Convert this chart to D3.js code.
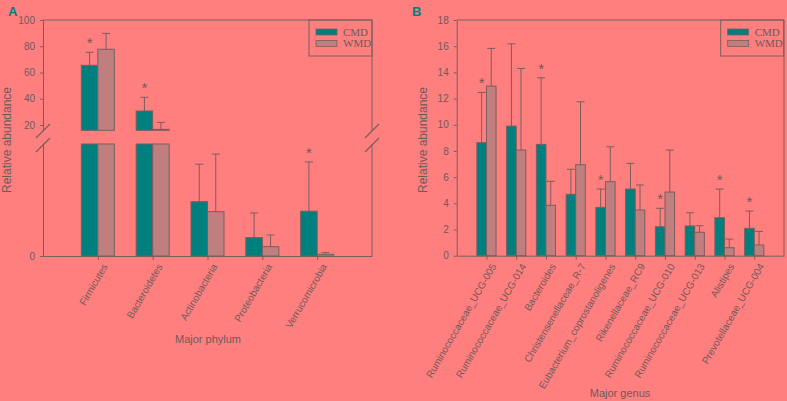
<!DOCTYPE html>
<html>
<head>
<meta charset="utf-8">
<script src="https://cdn.jsdelivr.net/npm/d3@7"></script>
<style>
  body { margin: 0; background: #ff7f7f; }
  svg { display: block; font-family: "Liberation Sans", Arial, sans-serif; }
  .tick text { fill: #6e5a5a; }
</style>
</head>
<body>
<svg id="chart" width="787" height="401"></svg>
<script>
// ---- data ----
var phyla = ["Firmicutes", "Bacteroidetes", "Actinobacteria", "Proteobacteria", "Verrucomicrobia"];
var phylumCMD = [65.5, 30.7, 4.85, 1.64, 4.0];
var phylumCMDsd = [9.9, 10.4, 3.35, 2.2, 4.4];
var phylumWMD = [77.7, 16.7, 3.96, 0.83, 0.15];
var phylumWMDsd = [12.1, 5.3, 5.14, 1.05, 0.15];
var phylumSig = [true, true, false, false, true];

var genera = ["Ruminococcaceae_UCG-005", "Ruminococcaceae_UCG-014", "Bacteroides",
  "Christensenellaceae_R-7", "Eubacterium_coprostanoligenes", "Rikenellaceae_RC9",
  "Ruminococcaceae_UCG-010", "Ruminococcaceae_UCG-013", "Alistipes", "Prevotellaceae_UCG-004"];
var genusCMD = [8.63, 9.9, 8.5, 4.69, 3.69, 5.09, 2.21, 2.27, 2.9, 2.09];
var genusCMDsd = [3.84, 6.28, 5.09, 1.91, 1.4, 1.96, 1.41, 1.01, 2.19, 1.32];
var genusWMD = [12.95, 8.07, 3.85, 6.95, 5.65, 3.49, 4.86, 1.79, 0.61, 0.82];
var genusWMDsd = [2.88, 6.23, 1.83, 4.8, 2.67, 1.91, 3.21, 0.5, 0.66, 1.04];
var genusSig = [true, false, true, false, true, false, true, false, true, true];

var phylumTicksUpper = [20, 40, 60, 80, 100];
var genusTicks = [0, 2, 4, 6, 8, 10, 12, 14, 16, 18];
var series = ["CMD", "WMD"];

// ---- style ----
var colCMD = "#007f7f";
var colWMD = "#bf7f7f";
var lineCol = "#7a5e5e";
var textCol = "#6e5a5a";

var svg = d3.select("#chart");

function styleAxis(g) {
  g.selectAll("path, line").attr("stroke", lineCol);
  g.selectAll("text").attr("fill", textCol).style("font-size", "10px");
}

function legend(x, y) {
  var lg = svg.append("g").attr("transform", "translate(" + x + "," + y + ")");
  lg.append("rect").attr("width", 63).attr("height", 36)
    .attr("fill", "none").attr("stroke", lineCol);
  series.forEach(function(s, i) {
    lg.append("rect").attr("x", 7).attr("y", 9 + i * 11.4).attr("width", 21).attr("height", 6)
      .attr("fill", i == 0 ? colCMD : colWMD).attr("stroke", lineCol).attr("stroke-width", 0.8);
    lg.append("text").attr("x", 34).attr("y", 16 + i * 11.4)
      .style("font-family", "'Liberation Serif', serif").style("font-size", "11px")
      .attr("fill", textCol).text(s);
  });
}

function errBar(g, x, y0, y1) {
  g.append("line").attr("x1", x).attr("x2", x).attr("y1", y0).attr("y2", y1)
    .attr("stroke", lineCol).attr("stroke-width", 1);
  g.append("line").attr("x1", x - 4).attr("x2", x + 4).attr("y1", y1).attr("y2", y1)
    .attr("stroke", lineCol).attr("stroke-width", 1);
}

function star(g, x, y) {
  g.append("text").attr("x", x).attr("y", y + 9).attr("text-anchor", "middle")
    .style("font-size", "15px").attr("fill", textCol).text("*");
}

// ================= Panel A =================
var aL = 43, aR = 372, aTop = 20, aBot = 256;
var xA = d3.scalePoint().domain(phyla).range([aL, aR]).padding(1);
var yUp = d3.scaleLinear().domain([16, 100]).range([130.3, aTop]);
var yLo = d3.scaleLinear().domain([0, 10]).range([aBot, 144]);
var bwA = 16.5;

var gA = svg.append("g");

// frame
gA.append("line").attr("x1", aL).attr("x2", aR).attr("y1", aTop).attr("y2", aTop).attr("stroke", lineCol);
gA.append("line").attr("x1", aR).attr("x2", aR).attr("y1", aTop).attr("y2", 130.3).attr("stroke", lineCol);
gA.append("line").attr("x1", aR).attr("x2", aR).attr("y1", 144).attr("y2", aBot).attr("stroke", lineCol);

gA.append("g").attr("transform", "translate(" + aL + ",0)")
  .call(d3.axisLeft(yUp).tickValues(phylumTicksUpper).tickSize(3).tickPadding(5).tickSizeOuter(0))
  .call(styleAxis);
gA.append("g").attr("transform", "translate(" + aL + ",0)")
  .call(d3.axisLeft(yLo).tickValues([0]).tickSize(3).tickPadding(5).tickSizeOuter(0))
  .call(styleAxis);

// break marks
[aL, aR].forEach(function(x) {
  [131, 145].forEach(function(y) {
    gA.append("line").attr("x1", x - 7).attr("y1", y + 7).attr("x2", x + 7).attr("y2", y - 7)
      .attr("stroke", lineCol).attr("stroke-width", 1.2);
  });
});

function drawPhylumBar(v, sd, x, fill) {
  var top;
  if (v > 10) {
    gA.append("rect").attr("x", x).attr("y", 144).attr("width", bwA).attr("height", aBot - 144)
      .attr("fill", fill).attr("stroke", lineCol);
    top = yUp(v);
    gA.append("rect").attr("x", x).attr("y", top).attr("width", bwA).attr("height", 130.3 - top)
      .attr("fill", fill).attr("stroke", lineCol);
    errBar(gA, x + bwA / 2, top, yUp(v + sd));
    return yUp(v + sd);
  } else {
    top = yLo(v);
    gA.append("rect").attr("x", x).attr("y", top).attr("width", bwA).attr("height", aBot - top)
      .attr("fill", fill).attr("stroke", lineCol);
    errBar(gA, x + bwA / 2, top, yLo(v + sd));
    return yLo(v + sd);
  }
}

phyla.forEach(function(p, i) {
  var cx = xA(p);
  var t = drawPhylumBar(phylumCMD[i], phylumCMDsd[i], cx - bwA, colCMD);
  drawPhylumBar(phylumWMD[i], phylumWMDsd[i], cx, colWMD);
  if (phylumSig[i]) star(gA, cx - bwA / 2, t - 13);
});

var xAxA = gA.append("g").attr("transform", "translate(0," + aBot + ")")
  .call(d3.axisBottom(xA).tickSize(4).tickSizeOuter(0))
  .call(styleAxis);
xAxA.selectAll("text").attr("text-anchor", "end")
  .attr("transform", "translate(3,3) rotate(-60)").attr("dy", "0.35em").attr("dx", "-0.3em").attr("x", 0)
  .attr("y", 6);

gA.append("text").attr("x", 208).attr("y", 343).attr("text-anchor", "middle")
  .style("font-size", "11px").attr("fill", textCol).text("Major phylum");
gA.append("text").attr("transform", "translate(11,140) rotate(-90)").attr("text-anchor", "middle")
  .style("font-size", "12px").attr("fill", textCol).text("Relative abundance");
gA.append("text").attr("x", 8).attr("y", 16).style("font-size", "13px").style("font-weight", "bold")
  .attr("fill", colCMD).text("A");
legend(309, 20);

// ================= Panel B =================
var bL = 456.7, bR = 784, bTop = 20, bBot = 255.7;
var xB = d3.scalePoint().domain(genera).range([bL, bR]).padding(1);
var yB = d3.scaleLinear().domain([0, 18]).range([bBot, bTop]);
var bwB = 9.6;

var gB = svg.append("g");
gB.append("line").attr("x1", bL).attr("x2", bR).attr("y1", bTop).attr("y2", bTop).attr("stroke", lineCol);
gB.append("line").attr("x1", bR).attr("x2", bR).attr("y1", bTop).attr("y2", bBot).attr("stroke", lineCol);

gB.append("g").attr("transform", "translate(" + bL + ",0)")
  .call(d3.axisLeft(yB).tickValues(genusTicks).tickSize(3).tickPadding(5).tickSizeOuter(0))
  .call(styleAxis);

genera.forEach(function(gname, i) {
  var cx = xB(gname);
  var vals = [genusCMD[i], genusWMD[i]];
  var sds = [genusCMDsd[i], genusWMDsd[i]];
  vals.forEach(function(v, j) {
    var x = cx - bwB + j * bwB;
    gB.append("rect").attr("x", x).attr("y", yB(v)).attr("width", bwB).attr("height", bBot - yB(v))
      .attr("fill", j == 0 ? colCMD : colWMD).attr("stroke", lineCol);
    errBar(gB, x + bwB / 2, yB(v), yB(v + sds[j]));
  });
  if (genusSig[i]) star(gB, cx - bwB / 2, yB(genusCMD[i] + genusCMDsd[i]) - 13);
});

var xAxB = gB.append("g").attr("transform", "translate(0," + bBot + ")")
  .call(d3.axisBottom(xB).tickSize(4).tickSizeOuter(0))
  .call(styleAxis);
xAxB.selectAll("text").attr("text-anchor", "end")
  .attr("transform", "translate(3,3) rotate(-60)").attr("dy", "0.35em").attr("dx", "-0.3em").attr("x", 0)
  .attr("y", 6);

gB.append("text").attr("x", 620).attr("y", 397).attr("text-anchor", "middle")
  .style("font-size", "11px").attr("fill", textCol).text("Major genus");
gB.append("text").attr("transform", "translate(427,140) rotate(-90)").attr("text-anchor", "middle")
  .style("font-size", "12px").attr("fill", textCol).text("Relative abundance");
gB.append("text").attr("x", 412).attr("y", 16).style("font-size", "13px").style("font-weight", "bold")
  .attr("fill", colCMD).text("B");
legend(720.7, 20);
</script>
</body>
</html>
